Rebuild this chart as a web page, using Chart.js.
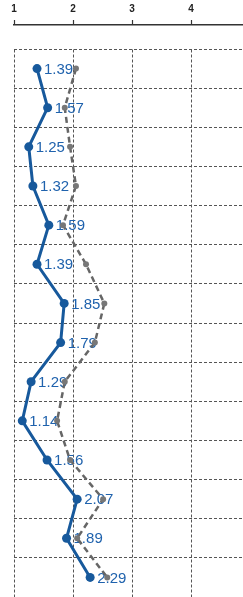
<!DOCTYPE html>
<html>
<head>
<meta charset="utf-8">
<script src="https://cdn.jsdelivr.net/npm/chart.js@4"></script>
<style>
html, body { margin: 0; padding: 0; background: #fff; }
</style>
</head>
<body>
<canvas id="lineChart" width="243" height="597"></canvas>
<script>
let rows = ['1', '2', '3', '4', '5', '6', '7', '8', '9', '10', '11', '12', '13', '14'];
let blueValues = [1.39, 1.57, 1.25, 1.32, 1.59, 1.39, 1.85, 1.79, 1.29, 1.14, 1.56, 2.07, 1.89, 2.29];
let grayValues = [2.05, 1.86, 1.95, 2.05, 1.83, 2.22, 2.53, 2.37, 1.86, 1.73, 1.95, 2.51, 2.07, 2.58];
let xTicks = [1, 2, 3, 4];

let blue = '#17599c'
let blueText = '#1f62ad'
let gray = '#666666'
let gridColor = '#555555'

// value labels next to the blue points, drawn before the gray series goes on top
const pointLabels = {
    id: 'pointLabels',
    afterDatasetDraw(chart, args) {
        if (args.index !== 1) return;
        const ctx = chart.ctx;
        ctx.save();
        ctx.font = '15px "Liberation Sans", Arial, sans-serif';
        ctx.fillStyle = blueText;
        ctx.textBaseline = 'middle';
        args.meta.data.forEach((pt, i) => {
            ctx.fillText(blueValues[i].toFixed(2), pt.x + 7, pt.y + 1);
        });
        ctx.restore();
    }
};

function noPadding(scale) {
    scale.paddingLeft = 0;
    scale.paddingRight = 0;
    scale.paddingTop = 0;
    scale.paddingBottom = 0;
}

var ctx = document.getElementById('lineChart').getContext('2d');

var chart = new Chart(ctx, {
    type: 'line',
    data: {
        labels: rows,
        datasets: [{
            data: grayValues,
            borderColor: gray,
            borderWidth: 2.5,
            borderDash: [6, 4],
            pointRadius: 3,
            pointBackgroundColor: '#777777',
            pointBorderWidth: 0,
            clip: false
        }, {
            data: blueValues,
            borderColor: blue,
            borderWidth: 3,
            pointRadius: 4.5,
            pointBackgroundColor: blue,
            pointBorderWidth: 0,
            clip: false
        }]
    },
    options: {
        responsive: false,
        animation: false,
        indexAxis: 'y',
        layout: { autoPadding: false, padding: { left: 14, top: 0, right: 0, bottom: 0 } },
        plugins: {
            legend: { display: false },
            tooltip: { enabled: false }
        },
        scales: {
            x: {
                type: 'linear',
                position: 'top',
                weight: 1,
                min: 1,
                max: 4.88,
                afterBuildTicks: (scale) => {
                    scale.ticks = xTicks.map(v => ({ value: v }));
                },
                afterFit: (scale) => {
                    noPadding(scale);
                    scale.height = 25;
                },
                ticks: {
                    color: '#222',
                    padding: 5,
                    font: { family: 'Liberation Sans', size: 10, weight: 'bold' }
                },
                grid: {
                    color: gridColor,
                    lineWidth: 1,
                    tickLength: 5,
                    tickColor: '#333',
                    tickWidth: 1.2,
                    tickBorderDash: []
                },
                border: { display: true, color: '#333', width: 1.5, dash: [3, 2] }
            },
            spacer: {
                type: 'linear',
                position: 'top',
                weight: 0,
                grid: { display: false },
                ticks: { display: false },
                border: { display: false },
                afterFit: (scale) => {
                    noPadding(scale);
                    scale.height = 24;
                }
            },
            y: {
                type: 'category',
                offset: true,
                ticks: { display: false },
                grid: { offset: true, color: gridColor, lineWidth: 1, drawTicks: false },
                border: { display: false, dash: [3, 2] },
                afterFit: (scale) => {
                    noPadding(scale);
                    scale.width = 0;
                }
            }
        }
    },
    plugins: [pointLabels]
});
</script>
</body>
</html>
